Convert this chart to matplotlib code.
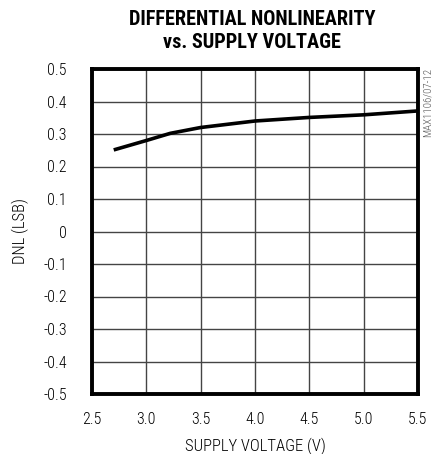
import matplotlib.pyplot as plt
import numpy as np

# data
vdd = [2.7, 3.0, 3.22, 3.5, 4.0, 4.5, 5.0, 5.5]
dnl = [0.251, 0.28, 0.302, 0.32, 0.34, 0.351, 0.359, 0.371]
xticks = [2.5, 3.0, 3.5, 4.0, 4.5, 5.0, 5.5]
yticks = [0.5, 0.4, 0.3, 0.2, 0.1, 0, -0.1, -0.2, -0.3, -0.4, -0.5]
ylabels = ['0.5', '0.4', '0.3', '0.2', '0.1', '0', '-0.1', '-0.2', '-0.3', '-0.4', '-0.5']

plt.rcParams['font.family'] = ['Roboto Condensed', 'DejaVu Sans']

fig = plt.figure(figsize=(4.39, 4.54), dpi=100)
ax = fig.add_axes([92/439, 1-394/454, 326/439, 325/454])

ax.plot(vdd, dnl, color='black', lw=2.6, solid_capstyle='butt')
ax.set_xlim(2.5, 5.5)
ax.set_ylim(-0.5, 0.5)
ax.set_xticks(xticks)
ax.set_xticklabels(['%.1f' % t for t in xticks])
ax.set_yticks(yticks)
ax.set_yticklabels(ylabels)
ax.tick_params(axis='x', length=0, labelsize=11.5, pad=13)
ax.tick_params(axis='y', length=0, labelsize=11.5, pad=18)
for lab in ax.get_xticklabels() + ax.get_yticklabels():
    lab.set_fontweight('light')
ax.grid(True, color='#444444', lw=1.0)
for s in ax.spines.values():
    s.set_linewidth(2.8)

ax.set_xlabel('SUPPLY VOLTAGE (V)', fontsize=12, labelpad=8, fontweight='light')
ax.set_ylabel('DNL (LSB)', fontsize=12, labelpad=10, fontweight='light')
fig.text(252/439, 1-10/454, 'DIFFERENTIAL NONLINEARITY\nvs. SUPPLY VOLTAGE',
         ha='center', va='top', fontsize=14.6, fontweight='bold', linespacing=1.3)
fig.text(428/439, 1-68/454, 'MAX1106/07-12', rotation=90, ha='center', va='top',
         fontsize=7.8, color='#555555', fontweight='light')

fig.savefig('out.png', dpi=100)
